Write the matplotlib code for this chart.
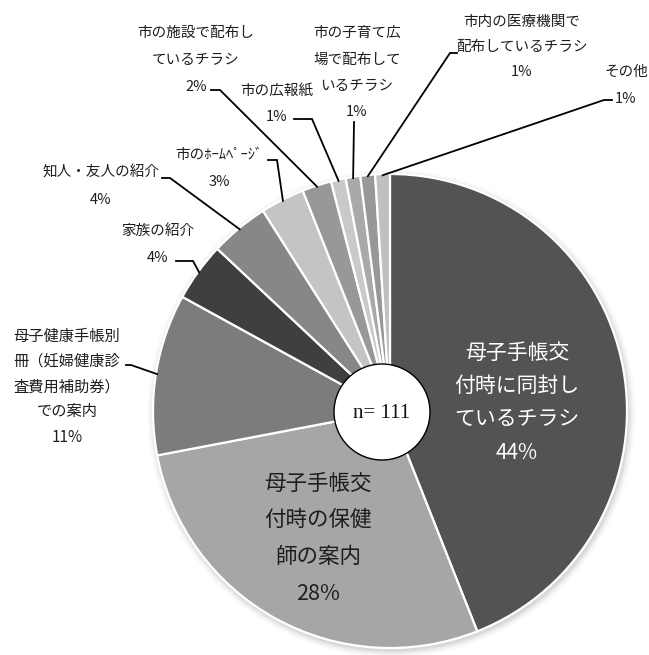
import matplotlib
matplotlib.use("Agg")
import matplotlib.pyplot as plt
from matplotlib.patches import Circle
import numpy as np

plt.rcParams['font.family'] = ['Noto Sans CJK JP', 'DejaVu Sans']

# ---- data ----
categories = [
    "母子手帳交付時に同封しているチラシ",
    "母子手帳交付時の保健師の案内",
    "母子健康手帳別冊（妊婦健康診査費用補助券）での案内",
    "家族の紹介",
    "知人・友人の紹介",
    "市のﾎｰﾑﾍﾟｰｼﾞ",
    "市の施設で配布しているチラシ",
    "市の広報紙",
    "市の子育て広場で配布しているチラシ",
    "市内の医療機関で配布しているチラシ",
    "その他",
]
values = [44, 28, 11, 4, 4, 3, 2, 1, 1, 1, 1]
pct_labels = ["44%", "28%", "11%", "4%", "4%", "3%", "2%", "1%", "1%", "1%", "1%"]
label_lines = [
    ["母子手帳交", "付時に同封し", "ているチラシ"],
    ["母子手帳交", "付時の保健", "師の案内"],
    ["母子健康手帳別", "冊（妊婦健康診", "査費用補助券）", "での案内"],
    ["家族の紹介"],
    ["知人・友人の紹介"],
    ["市のﾎｰﾑﾍﾟｰｼﾞ"],
    ["市の施設で配布し", "ているチラシ"],
    ["市の広報紙"],
    ["市の子育て広", "場で配布して", "いるチラシ"],
    ["市内の医療機関で", "配布しているチラシ"],
    ["その他"],
]
n_text = "n= 111"

colors = ["#535353", "#a6a6a6", "#7c7c7c", "#3f3f3f", "#878787", "#c4c4c4",
          "#989898", "#c9c9c9", "#a9a9a9", "#989898", "#c0c0c0"]

W, H = 649, 655
fig = plt.figure(figsize=(W / 100, H / 100), dpi=100)
ax = fig.add_axes([0, 0, 1, 1])

def P(x, y):
    """pixel coords (y down) -> data coords (y up)"""
    return x, H - y

cx, cy = P(390, 411)
R = 237

# soft shadow
for i, a in enumerate([0.05, 0.04, 0.03, 0.02, 0.012]):
    ax.add_patch(Circle((cx + 1.5, cy - 2.5), R + 1 + i * 1.6, color="black",
                        alpha=a, lw=0, zorder=0))

wedges, _ = ax.pie(values, colors=colors, startangle=90, counterclock=False,
                   center=(cx, cy), radius=R,
                   wedgeprops=dict(edgecolor="white", linewidth=1.6))
ax.set_xlim(0, W)
ax.set_ylim(0, H)
ax.set_aspect("equal")
ax.axis("off")

# center circle
ax.add_patch(Circle(P(382, 412), 48, facecolor="white", edgecolor="black",
                    lw=1.0, zorder=5))
ax.text(*P(382, 413), n_text, ha="center", va="center", fontsize=15,
        family=["Liberation Serif"], color="#111111", zorder=6)

def lines_text(lines, x, y0, dy, size, color):
    for k, s in enumerate(lines):
        ax.text(*P(x, y0 + k * dy), s, ha="center", va="center",
                fontsize=size, color=color, zorder=6)

# inside labels
lines_text(label_lines[0] + [pct_labels[0]], 517, 353, 33.2, 15, "white")
lines_text(label_lines[1] + [pct_labels[1]], 318, 484, 36.5, 15.5, "#1e1e1e")

# outside label layouts: (center x, first line y, line spacing, font size,
#                         elbow point, end point)
outside = {
    2: (67, 336, 25.3, 11, (131, 365), (126, 365)),
    3: (158, 231, 27, 10.5, (193, 261), (176, 261)),
    4: (101, 173, 27, 10.5, (170, 178), (162, 178)),
    5: (219, 155, 27, 10.5, (277, 160), (268, 160)),
    6: (196, 33, 27, 10.5, (220, 90), (211, 90)),
    7: (277, 91, 26, 10.5, (312, 119), (294, 119)),
    8: (357, 33, 26.5, 10.5, (354, 122), (354, 122)),
    9: (522, 22, 25, 10.5, (450, 53), (457, 53)),
    10: (626, 72, 27, 10.5, (604, 100), (612, 100)),
}

cum = np.cumsum([0] + values)
total = float(sum(values))
for i, (x, y0, dy, fs, elbow, end) in outside.items():
    lines_text(label_lines[i] + [pct_labels[i]], x, y0, dy, fs, "#1e1e1e")
    mid = (cum[i] + cum[i + 1]) / 2.0 / total * 2 * np.pi
    ax_x = cx + R * 0.995 * np.sin(mid)
    ax_y = cy + R * 0.995 * np.cos(mid)
    ex, ey = P(*elbow)
    nx, ny = P(*end)
    ax.plot([ax_x, ex, nx], [ax_y, ey, ny], color="black", lw=1.3,
            solid_joinstyle="miter", zorder=4)

fig.savefig("out.png", dpi=100, facecolor="white")
